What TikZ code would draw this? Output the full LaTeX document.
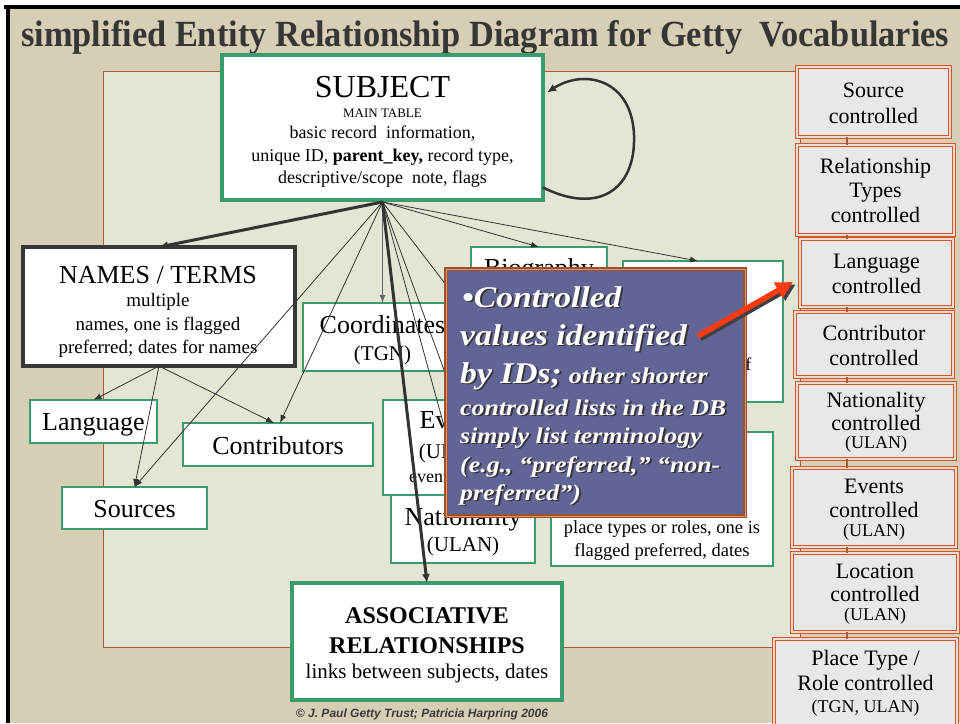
\documentclass[tikz,border=0pt]{standalone}
\usepackage{graphicx}
\usepackage{fontspec}
\setmainfont{Liberation Serif}
\newfontfamily\creditfont{Liberation Sans}
\usetikzlibrary{arrows.meta}

\definecolor{pagebg}{HTML}{D7CEB6}
\definecolor{panelbg}{HTML}{E5E5D6}
\definecolor{panelrule}{HTML}{A85A33}
\definecolor{boxgreen}{HTML}{3A9B6C}
\definecolor{namesrule}{HTML}{383838}
\definecolor{ctrlrule}{HTML}{D4552B}
\definecolor{ctrlgap}{HTML}{F0D8CC}
\definecolor{ctrlfill}{HTML}{E8E8E8}
\definecolor{notefill}{HTML}{636496}
\definecolor{noterule}{HTML}{A24E28}
\definecolor{notegap}{HTML}{D49A78}
\definecolor{linkc}{HTML}{333333}
\definecolor{vertc}{HTML}{666666}
\definecolor{arrowred}{HTML}{FF3A12}
\definecolor{titlec}{HTML}{363636}
\definecolor{creditc}{HTML}{3A3A3A}

% font size in pt (1pt = 1 unit of the drawing)
\newcommand\fsz[1]{\fontsize{#1}{#1}\selectfont}
% box node from its top-left and bottom-right corners
\newcommand\mkbox[6]{\node[#1,anchor=north west,minimum width={#5-#3},minimum height={#6-#4}] (#2) at (#3,#4) {};}
% one centred line of text standing on a baseline
\newcommand\putline[5]{\node[anchor=base,inner sep=0pt,font=#2] (#1) at (#3,#4) {#5};}
% one left-aligned line of the callout text
\newcommand\noteline[4]{\node[anchor=base west,inner sep=0pt,font=\bfseries\itshape] (#1) at (#2,#3) {#4};}
% white text with a dark drop shadow
\newcommand\shadowed[1]{\makebox[0pt][l]{\kern1.6pt\raisebox{-1.6pt}{\color{black!80}#1}}{\color{white}#1}}
% big and small callout type, widened a little
\newcommand\bigcall[1]{\scalebox{1.12}[1]{\fsz{30}\shadowed{#1}}}
\newcommand\smallcall[1]{\scalebox{1.15}[1]{\fsz{22.5}\shadowed{#1}}}

\begin{document}
\begin{tikzpicture}[x=1pt,y=-1pt,
  gbox/.style={draw=boxgreen,line width=1.4pt,fill=white,inner sep=0pt,outer sep=0pt},
  subjbox/.style={gbox,line width=4.5pt},
  assocbox/.style={gbox,line width=3.5pt},
  namesbox/.style={draw=namesrule,line width=3.5pt,fill=white,inner sep=0pt,outer sep=0pt},
  ctrlbox/.style={draw=ctrlrule,double=ctrlgap,double distance=1.3pt,line width=1pt,fill=ctrlfill,inner sep=0pt,outer sep=0pt},
  notebox/.style={draw=noterule,double=notegap,double distance=1pt,line width=1.2pt,fill=notefill,inner sep=0pt,outer sep=0pt},
  thinarrow/.style={draw=linkc,line width=0.8pt,-{Latex[length=8pt,width=6pt]}},
  bigarrow/.style={draw=linkc,line width=3pt,-{Latex[length=9pt,width=8pt]}},
  vertarrow/.style={draw=vertc,line width=1pt,-{Latex[length=8pt,width=6pt]}},
  loopline/.style={draw=linkc,line width=2.5pt,-{Latex[length=9pt,width=8pt]}},
  chainline/.style={draw=panelrule,line width=1.2pt},
  redarrow/.style={line width=5.5pt,-{Triangle[length=17pt,width=17pt]}}
]
\useasboundingbox (0,0) rectangle (960,723);

% slide background and frame
\fill[white] (0,0) rectangle (960,723);
\fill[pagebg] (6,6) rectangle (960,723);
\fill[black] (4,5) rectangle (960,8.5);
\fill[black] (6,5) rectangle (10,723);

% inner panel
\fill[panelbg] (103,71) rectangle (800,647);
\draw[panelrule,line width=1pt] (103,71) rectangle (800,647);

% title
\node[anchor=base west,inner sep=0pt,text=titlec] (title) at (21,46)
  {\resizebox{928pt}{26pt}{\bfseries simplified Entity Relationship Diagram for Getty\ \ Vocabularies}};

% column of controlled lists
\mkbox{ctrlbox}{srcc}{797}{67}{950}{137}
\mkbox{ctrlbox}{relc}{797}{145}{954}{235}
\mkbox{ctrlbox}{langc}{800}{239}{953}{307}
\mkbox{ctrlbox}{contrc}{795}{312}{953}{377}
\mkbox{ctrlbox}{natc}{797}{383}{955}{459}
\mkbox{ctrlbox}{evtc}{792}{468}{956}{547}
\mkbox{ctrlbox}{locc}{792}{553}{958}{632}
\mkbox{ctrlbox}{placec}{774}{639}{957}{726}
\coordinate (chainx) at (847,0);
\foreach \a/\b in {srcc/relc,relc/langc,langc/contrc,contrc/natc,natc/evtc,evtc/locc,locc/placec}
  \draw[chainline] (\a.south -| chainx) -- (\b.north -| chainx);

\putline{srcc1}{\fsz{22}}{873.5}{97}{Source}
\putline{srcc2}{\fsz{22}}{873.5}{123}{controlled}
\putline{relc1}{\fsz{22}}{875.5}{173}{Relationship}
\putline{relc2}{\fsz{22}}{875.5}{197}{Types}
\putline{relc3}{\fsz{22}}{875.5}{222}{controlled}
\putline{langc1}{\fsz{22}}{876.5}{268}{Language}
\putline{langc2}{\fsz{22}}{876.5}{293}{controlled}
\putline{contrc1}{\fsz{22}}{874}{340}{Contributor}
\putline{contrc2}{\fsz{22}}{874}{365}{controlled}
\putline{natc1}{\fsz{22}}{876}{407}{Nationality}
\putline{natc2}{\fsz{22}}{876}{430}{controlled}
\putline{natc3}{\fsz{18}}{876}{448}{(ULAN)}
\putline{evtc1}{\fsz{22}}{874}{493}{Events}
\putline{evtc2}{\fsz{22}}{874}{517}{controlled}
\putline{evtc3}{\fsz{18}}{874}{536}{(ULAN)}
\putline{locc1}{\fsz{22}}{875}{578}{Location}
\putline{locc2}{\fsz{22}}{875}{601}{controlled}
\putline{locc3}{\fsz{18}}{875}{620}{(ULAN)}
\putline{placec1}{\fsz{22}}{865.5}{665}{Place Type /}
\putline{placec2}{\fsz{22}}{865.5}{690}{Role controlled}
\putline{placec3}{\fsz{18}}{865.5}{712}{(TGN, ULAN)}

% entity boxes
\mkbox{subjbox}{subj}{222}{55}{543}{200}
\mkbox{namesbox}{names}{23}{247}{295}{366}
\mkbox{gbox}{lang}{30}{400}{157}{443}
\mkbox{gbox}{src}{62}{487}{207}{529}
\mkbox{gbox}{contrib}{183}{423}{373}{466}
\mkbox{gbox}{coord}{303}{303}{462}{371}
\mkbox{gbox}{bio}{471}{247}{607}{390}
\mkbox{gbox}{loc}{623}{261}{783}{402}
\mkbox{gbox}{events}{383}{400}{527}{495}
\mkbox{gbox}{nation}{391}{495}{535}{563}
\mkbox{gbox}{place}{551}{432}{773}{566}
\mkbox{assocbox}{assoc}{292}{583}{562}{700}

\putline{subj1}{\fsz{32}}{382.5}{97}{SUBJECT}
\putline{subj2}{\fsz{13}}{382.5}{117}{MAIN TABLE}
\putline{subj3}{\fsz{18}}{382.5}{138}{basic record\ \ information,}
\putline{subj4}{\fsz{18}}{382.5}{161}{unique ID, \textbf{parent\_key,} record type,}
\putline{subj5}{\fsz{18}}{382.5}{183}{descriptive/scope\ \ note, flags}

\putline{names1}{\fsz{26}}{158}{283}{NAMES / TERMS}
\putline{names2}{\fsz{19}}{158}{306}{multiple}
\putline{names3}{\fsz{19}}{158}{330}{names, one is flagged}
\putline{names4}{\fsz{19}}{158}{353}{preferred; dates for names}

\putline{lang1}{\fsz{26}}{93.5}{430}{Language}
\putline{src1}{\fsz{26}}{134.5}{517}{Sources}
\putline{contrib1}{\fsz{26}}{278}{454}{Contributors}
\putline{coord1}{\fsz{26}}{382.5}{333}{Coordinates}
\putline{coord2}{\fsz{21}}{382.5}{360}{(TGN)}
\putline{bio1}{\fsz{26}}{539}{276}{Biography}
\putline{loc1}{\fsz{25}}{703}{291}{Location}
\putline{loc2}{\fsz{18}}{703}{345}{birth, death,}
\putline{loc3}{\fsz{18}}{703}{370}{dates, type of}
\putline{events1}{\fsz{26}}{455}{428}{Events}
\putline{events2}{\fsz{21}}{455}{458}{(ULAN)}
\putline{events3}{\fsz{18}}{455}{482}{events, dates}
\putline{nation1}{\fsz{26}}{463}{525}{Nationality}
\putline{nation2}{\fsz{21}}{463}{551}{(ULAN)}
\putline{place1}{\fsz{18.5}}{662}{533}{place types or roles, one is}
\putline{place2}{\fsz{18.5}}{662}{556}{flagged preferred, dates}
\putline{assoc1}{\fsz{24}\bfseries}{427}{623}{ASSOCIATIVE}
\putline{assoc2}{\fsz{24}\bfseries}{427}{653}{RELATIONSHIPS}
\putline{assoc3}{\fsz{21}}{427}{678}{links between subjects, dates}

% links from the main table
\coordinate (fan) at ([yshift=-2pt]subj.south);
\draw[loopline] ([yshift=-60pt]subj.east) .. controls (598,215) and (636,190) .. (634,135)
  .. controls (632,80) and (585,68) .. ([shift={(4pt,35pt)}]subj.east);
\draw[bigarrow] (fan) -- (names.north);
\draw[thinarrow] (fan) -- (src.north);
\draw[thinarrow] (fan) -- ([xshift=2pt]contrib.north);
\draw[vertarrow] (fan) -- (coord.north);
\draw[thinarrow] (fan) -- (events.north);
\draw[thinarrow] (fan) -- (nation.north);
\draw[thinarrow] (fan) -- ([xshift=8pt]place.north west);
\draw[thinarrow] (fan) -- (bio.north);
\draw[thinarrow] (fan) -- ([xshift=-5pt]loc.north);
\draw[bigarrow] (fan) -- (assoc.north);

% links from the names table
\draw[thinarrow] (names.south) -- (lang.north);
\draw[thinarrow] (names.south) -- (src.north);
\draw[thinarrow] (names.south) -- ([xshift=-4pt]contrib.north);

% callout
\mkbox{notebox}{note}{446}{269}{745}{516}
\noteline{note1}{462}{307}{\bigcall{•Controlled}}
\noteline{note2}{460}{345}{\bigcall{values identified}}
\noteline{note3}{460}{383}{\bigcall{by IDs;}\hspace{7pt}\smallcall{other shorter}}
\noteline{note4}{460}{415}{\smallcall{controlled lists in the DB}}
\noteline{note5}{460}{443}{\smallcall{simply list terminology}}
\noteline{note6}{460}{472}{\smallcall{(e.g., “preferred,” “non-}}
\noteline{note7}{460}{500}{\smallcall{preferred”)}}

\coordinate (redtail) at (698,336);
\draw[redarrow,draw=black!75,fill=black!75,transform canvas={shift={(2.5pt,-2.5pt)}}]
  (redtail) -- ([shift={(-7pt,-9pt)}]langc.west);
\draw[redarrow,draw=arrowred,fill=arrowred] (redtail) -- ([shift={(-7pt,-9pt)}]langc.west);

% credit line
\node[anchor=base,inner sep=0pt,font=\creditfont\bfseries\itshape\fsz{12},text=creditc] (credit) at (422,717)
  {© J. Paul Getty Trust; Patricia Harpring 2006};
\end{tikzpicture}
\end{document}
